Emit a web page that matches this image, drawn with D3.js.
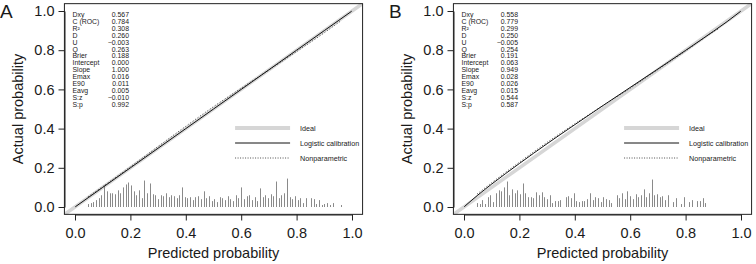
<!DOCTYPE html>
<html>
<head>
<meta charset="utf-8">
<script src="https://cdn.jsdelivr.net/npm/d3@7"></script>
<style>
  body { margin: 0; background: #fff; }
  text { font-family: "Liberation Sans", Arial, sans-serif; fill: #1a1a1a; }
</style>
</head>
<body>
<svg id="chart" width="756" height="264"></svg>
<script>
// axis ticks (both axes, both panels)
const ticks = [0, 0.2, 0.4, 0.6, 0.8, 1.0];

// statistics block
const statNames = ["Dxy", "C (ROC)", "R\u00b2", "D", "U", "Q", "Brier", "Intercept", "Slope", "Emax", "E90", "Eavg", "S:z", "S:p"];
const statsA = ["0.567", "0.784", "0.308", "0.260", "\u22120.003", "0.263", "0.188", "0.000", "1.000", "0.016", "0.011", "0.005", "\u22120.010", "0.992"];
const statsB = ["0.558", "0.779", "0.299", "0.250", "\u22120.005", "0.254", "0.191", "0.063", "0.949", "0.028", "0.026", "0.015", "0.544", "0.587"];

const legendLabels = ["Ideal", "Logistic calibration", "Nonparametric"];

// logistic calibration curves (predicted, actual)
const logitA = [[0.001, 0.001], [0.05, 0.05], [0.1, 0.1], [0.2, 0.2], [0.3, 0.3], [0.4, 0.4], [0.5, 0.5],
                [0.6, 0.6], [0.7, 0.7], [0.8, 0.8], [0.9, 0.9], [0.95, 0.95], [0.999, 0.999]];
const logitB = [[0.001, 0.0015], [0.05, 0.061], [0.1, 0.117], [0.2, 0.222], [0.3, 0.323], [0.4, 0.420], [0.5, 0.516],
                [0.6, 0.610], [0.7, 0.704], [0.8, 0.799], [0.9, 0.896], [0.95, 0.946], [0.999, 0.9987]];

// nonparametric (lowess) curves
const smoothA = [[0.047, 0.052], [0.1, 0.104], [0.2, 0.205], [0.3, 0.309], [0.4, 0.412], [0.5, 0.512],
                 [0.6, 0.606], [0.7, 0.699], [0.8, 0.793], [0.9, 0.889], [0.958, 0.948]];
const smoothB = [[0.047, 0.066], [0.1, 0.124], [0.2, 0.229], [0.3, 0.330], [0.4, 0.425], [0.5, 0.516],
                 [0.6, 0.606], [0.7, 0.701], [0.8, 0.796], [0.9, 0.894], [0.917, 0.908]];

// spike histogram of predicted probabilities (bin grid start, counts per bin)
const spikeStep = 0.0097;
const spikeStartA = 0.047;
const spikesA = [3, 4, 5, 7, 9, 12, 22, 16, 14, 14, 13, 17, 14, 20, 23, 25, 22, 16, 12, 17,
                 9, 27, 14, 24, 13, 12, 8, 12, 11, 14, 10, 12, 11, 9, 12, 20, 10, 9, 10, 7,
                 10, 11, 8, 16, 9, 11, 6, 8, 5, 10, 9, 7, 11, 8, 6, 12, 9, 20, 8, 11,
                 12, 7, 10, 6, 19, 10, 12, 9, 13, 11, 26, 9, 12, 14, 29, 10, 8, 11, 7, 9,
                 4, 9, 0, 9, 8, 3, 7, 2, 3, 4, 2, 4, 0, 0, 2];
const spikeStartB = 0.047;
const spikesB = [4, 3, 7, 3, 10, 12, 5, 14, 17, 16, 20, 26, 12, 18, 14, 17, 13, 24, 14, 10,
                 10, 9, 15, 12, 15, 10, 8, 12, 4, 6, 6, 7, 0, 10, 11, 9, 14, 6, 5, 6,
                 6, 8, 14, 7, 10, 9, 5, 10, 8, 7, 4, 0, 12, 9, 14, 8, 16, 11, 8, 13,
                 10, 12, 18, 10, 14, 28, 12, 13, 10, 11, 7, 12, 0, 5, 9, 0, 3, 10, 0, 5,
                 7, 0, 6, 6, 9, 4];

const svg = d3.select("#chart");

function drawPanel(p) {
  const x = d3.scaleLinear().domain([0, 1]).range([p.left, p.left + 277]);
  const y = d3.scaleLinear().domain([0, 1]).range([207, 11]);
  const bx0 = x(-0.04), bx1 = x(1.04), by0 = y(-0.04), by1 = y(1.04);
  const g = svg.append("g");

  g.append("clipPath").attr("id", "clip" + p.id)
    .append("rect").attr("x", bx0).attr("y", by1).attr("width", bx1 - bx0).attr("height", by0 - by1);
  const plot = g.append("g").attr("clip-path", "url(#clip" + p.id + ")");

  // ideal line
  plot.append("line")
    .attr("x1", x(-0.04)).attr("y1", y(-0.04)).attr("x2", x(1.04)).attr("y2", y(1.04))
    .attr("stroke", "#d6d6d6").attr("stroke-width", 3.5);

  // spikes
  const h = d3.scaleLinear().domain([0, 30]).range([0, 0.15]);
  plot.selectAll("line.spike").data(p.spikes).join("line")
    .attr("class", "spike")
    .attr("x1", (d, i) => Math.round(x(p.spikeStart + i * spikeStep)) + 0.5)
    .attr("x2", (d, i) => Math.round(x(p.spikeStart + i * spikeStep)) + 0.5)
    .attr("y1", y(0)).attr("y2", d => y(h(d)))
    .attr("stroke", "#8a8a8a").attr("stroke-width", 1);

  const line = d3.line().x(d => x(d[0])).y(d => y(d[1])).curve(d3.curveMonotoneX);
  plot.append("path").datum(p.smooth).attr("d", line)
    .attr("fill", "none").attr("stroke", "#222").attr("stroke-width", 0.8).attr("stroke-dasharray", "1,2");
  plot.append("path").datum(p.logit).attr("d", line)
    .attr("fill", "none").attr("stroke", "#111").attr("stroke-width", 1);

  // frame
  g.append("rect").attr("x", bx0 + 0.5).attr("y", by1 + 0.5)
    .attr("width", bx1 - bx0 - 1).attr("height", by0 - by1 - 1)
    .attr("fill", "none").attr("stroke", "#222");

  // axes
  const fmt = d3.format(".1f");
  const ax = g.append("g").attr("transform", `translate(0,${Math.round(by0) - 0.5})`)
    .call(d3.axisBottom(x).tickValues(ticks).tickFormat(fmt).tickSize(6).tickSizeOuter(0).tickPadding(7));
  const ay = g.append("g").attr("transform", `translate(${Math.round(bx0) + 0.5},0)`)
    .call(d3.axisLeft(y).tickValues(ticks).tickFormat(fmt).tickSize(6).tickSizeOuter(0).tickPadding(4));
  [ax, ay].forEach(a => {
    a.select(".domain").attr("stroke", "#222");
    a.selectAll(".tick line").attr("stroke", "#222");
    a.selectAll(".tick text").attr("font-size", 14.5).attr("fill", "#1a1a1a")
      .style("font-family", '"Liberation Sans", Arial, sans-serif');
  });

  // axis titles
  g.append("text").attr("x", (bx0 + bx1) / 2).attr("y", 258)
    .attr("text-anchor", "middle").attr("font-size", 14.5).text("Predicted probability");
  g.append("text").attr("transform", `translate(${p.left - 52},${(by0 + by1) / 2}) rotate(-90)`)
    .attr("text-anchor", "middle").attr("font-size", 14.5).text("Actual probability");

  // panel letter
  g.append("text").attr("x", p.left - 75).attr("y", 18).attr("font-size", 19).text(p.id);

  // statistics
  const st = g.append("g").attr("font-size", 6.9);
  st.selectAll("text.sn").data(statNames).join("text").attr("class", "sn")
    .attr("x", x(0) - 2.5).attr("y", (d, i) => 17 + i * 6.9).text(d => d);
  st.selectAll("text.sv").data(p.stats).join("text").attr("class", "sv")
    .attr("x", x(0) + 54).attr("y", (d, i) => 17 + i * 6.9).attr("text-anchor", "end").text(d => d);

  // legend
  const lg = g.append("g");
  const styles = [
    { stroke: "#d6d6d6", width: 4, dash: null },
    { stroke: "#111", width: 1, dash: null },
    { stroke: "#222", width: 0.8, dash: "1,1.5" }
  ];
  legendLabels.forEach((lab, i) => {
    const ly = 128 + i * 15;
    lg.append("line").attr("x1", bx1 - 128).attr("x2", bx1 - 73).attr("y1", ly).attr("y2", ly)
      .attr("stroke", styles[i].stroke).attr("stroke-width", styles[i].width)
      .attr("stroke-dasharray", styles[i].dash);
    lg.append("text").attr("x", bx1 - 63).attr("y", ly + 2.6).attr("font-size", 7.2).text(lab);
  });
}

drawPanel({ id: "A", left: 75, stats: statsA, logit: logitA, smooth: smoothA, spikes: spikesA, spikeStart: spikeStartA });
drawPanel({ id: "B", left: 464, stats: statsB, logit: logitB, smooth: smoothB, spikes: spikesB, spikeStart: spikeStartB });
</script>
</body>
</html>
